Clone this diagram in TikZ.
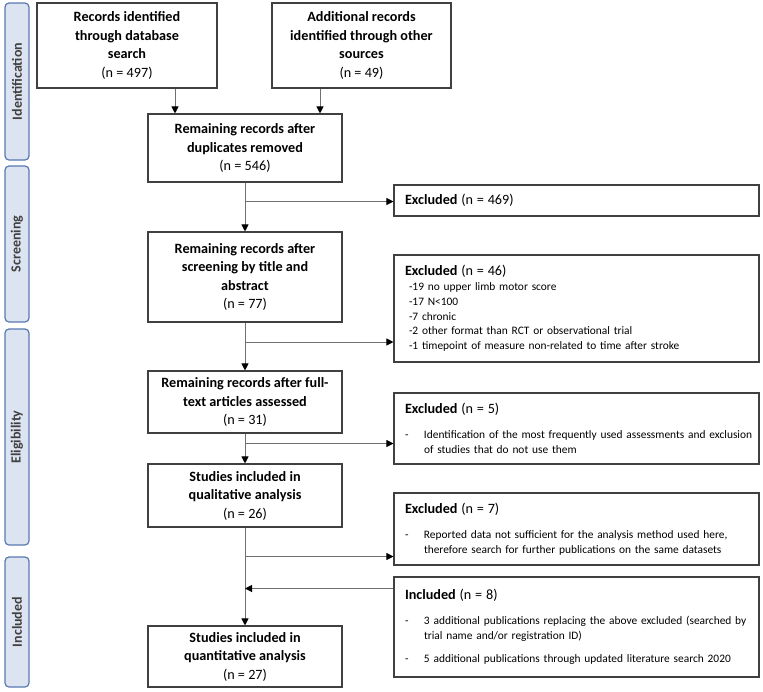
\documentclass[tikz,border=0pt]{standalone}
\usepackage{fontspec}
\setmainfont{Carlito}
\usetikzlibrary{arrows.meta,calc}

\definecolor{phasefill}{HTML}{DCE3F1}
\definecolor{phaseline}{HTML}{5A78B0}
\definecolor{boxline}{HTML}{404040}
\definecolor{connline}{HTML}{707070}

\newcommand{\dashitem}[1]{\par\noindent\makebox[19pt][l]{-}\parbox[t]{331pt}{\raggedright #1}\par}
\newcommand{\headfont}{\fontsize{14.2}{19}\selectfont}

\begin{document}
\begin{tikzpicture}[x=1pt, y=-1pt,
  phase/.style = {draw=phaseline, fill=phasefill, rounded corners=4pt, line width=1.2pt,
                  minimum width=24pt, inner sep=0pt, text=boxline,
                  font=\fontsize{14}{15}\selectfont\bfseries},
  stage/.style = {draw=boxline, line width=1.1pt, minimum width=194pt, inner sep=3pt,
                  align=center, font=\fontsize{14.2}{18.5}\selectfont},
  side/.style = {draw=boxline, line width=1.1pt, minimum width=365pt, text width=357pt,
                 inner xsep=4pt, inner ysep=0pt, align=left,
                 execute at begin node={\leftskip=7pt},
                 font=\fontsize{11.4}{14.8}\selectfont},
  flow/.style = {draw=connline, line width=1pt, -{Triangle[length=7pt, width=7pt, color=black]}},
  ]
  \useasboundingbox (0,0) rectangle (763,691);

  \node[phase, minimum height=157pt] (ident) at (17,81.5) {\rotatebox{90}{Identification}};
  \node[phase, minimum height=156pt] (screen) at (17,244) {\rotatebox{90}{Screening}};
  \node[phase, minimum height=216pt] (elig) at (17,437) {\rotatebox{90}{Eligibility}};
  \node[phase, minimum height=130pt] (incl) at (17,622) {\rotatebox{90}{Included}};

  \node[stage, minimum width=180pt, minimum height=85pt] (dbase) at (127,45.5)
    {\textbf{Records identified}\\\textbf{through database}\\\textbf{search}\\(n = 497)};
  \node[stage, minimum width=179pt, minimum height=85pt] (other) at (361.5,45.5)
    {\textbf{Additional records}\\\textbf{identified through other}\\\textbf{sources}\\(n = 49)};
  \node[stage, minimum height=68pt] (dupl) at (245,148)
    {\textbf{Remaining records after}\\\textbf{duplicates removed}\\(n = 546)};
  \node[stage, minimum height=90pt] (title) at (245,277)
    {\textbf{Remaining records after}\\\textbf{screening by title and}\\\textbf{abstract}\\(n = 77)};
  \node[stage, minimum height=62pt] (full) at (245,402)
    {\textbf{Remaining records after full-}\\\textbf{text articles assessed}\\(n = 31)};
  \node[stage, minimum height=63pt] (qual) at (245,495.5)
    {\textbf{Studies included in}\\\textbf{qualitative analysis}\\(n = 26)};
  \node[stage, minimum height=61pt] (quant) at (245,656.5)
    {\textbf{Studies included in}\\\textbf{quantitative analysis}\\(n = 27)};

  \node[side, minimum height=31pt] (excla) at (576.5,200.5)
    {\headfont\textbf{Excluded} (n = 469)};
  \node[side, minimum height=107pt] (exclb) at (576.5,308.5)
    {{\headfont\textbf{Excluded} (n = 46)}\par
     \hspace*{4pt}-19 no upper limb motor score\par
     \hspace*{4pt}-17 N<100\par
     \hspace*{4pt}-7 chronic\par
     \hspace*{4pt}-2 other format than RCT or observational trial\par
     \hspace*{4pt}-1 timepoint of measure non-related to time after stroke};
  \node[side, minimum height=71pt] (exclc) at (576.5,428.5)
    {{\headfont\textbf{Excluded} (n = 5)}\par\vspace{10pt}
     \dashitem{Identification of the most frequently used assessments and exclusion\\
     of studies that do not use them}};
  \node[side, minimum height=72pt] (excld) at (576.5,529)
    {{\headfont\textbf{Excluded} (n = 7)}\par\vspace{10pt}
     \dashitem{Reported data not sufficient for the analysis method used here,\\
     therefore search for further publications on the same datasets}};
  \node[side, minimum height=100pt] (added) at (576.5,627)
    {{\headfont\textbf{Included} (n = 8)}\par\vspace{10pt}
     \dashitem{3 additional publications replacing the above excluded (searched by\\
     trial name and/or registration ID)}\vspace{12pt}
     \dashitem{5 additional publications through updated literature search 2020}};

  \draw[flow] ([xshift=48pt]dbase.south) -- ([xshift=48pt]dbase.south |- dupl.north);
  \draw[flow] ([xshift=-41.5pt]other.south) -- ([xshift=-41.5pt]other.south |- dupl.north);
  \draw[flow] (dupl) -- (title);
  \draw[flow] (title) -- (full);
  \draw[flow] (full) -- (qual);
  \draw[flow] (qual) -- (quant);

  \coordinate (cut1) at (245,201.5);
  \coordinate (cut2) at (245,342);
  \coordinate (cut3) at (245,443.5);
  \coordinate (cut4) at (245,556.5);
  \coordinate (join) at (245,588.5);
  \draw[flow] (cut1) -- (cut1 -| excla.west);
  \draw[flow] (cut2) -- (cut2 -| exclb.west);
  \draw[flow] (cut3) -- (cut3 -| exclc.west);
  \draw[flow] (cut4) -- (cut4 -| excld.west);
  \draw[flow] (join -| added.west) -- (join);
\end{tikzpicture}
\end{document}
